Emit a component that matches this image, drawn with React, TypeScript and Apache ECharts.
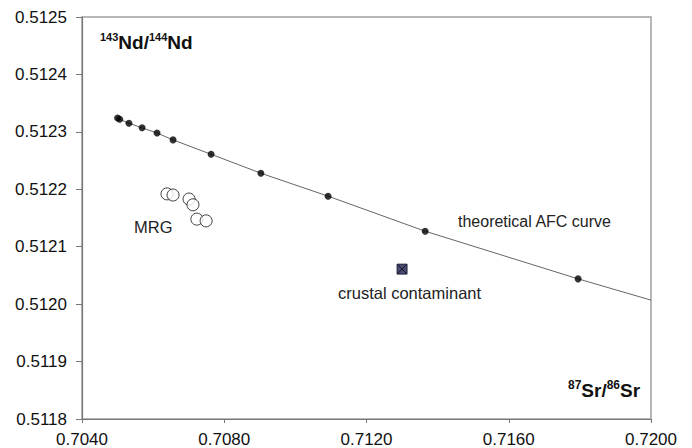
import React, { useEffect, useRef } from "react";
import * as echarts from "echarts";

const afcSr = [0.70500, 0.70506, 0.70532, 0.70569, 0.70611, 0.70656, 0.70763, 0.70903, 0.71092, 0.71365, 0.71795];
const afcNd = [0.512324, 0.512322, 0.512315, 0.512307, 0.512298, 0.512286, 0.512261, 0.512228, 0.512188, 0.512127, 0.512044];
const curveEndSr = 0.7200;
const curveEndNd = 0.512007;

const mrgSr = [0.70639, 0.70656, 0.70701, 0.70712, 0.70723, 0.70749];
const mrgNd = [0.512192, 0.512190, 0.512183, 0.512173, 0.512148, 0.512145];

const contaminantSr = [0.71300];
const contaminantNd = [0.512061];

const xTicks = { min: 0.704, max: 0.72, interval: 0.004 };
const yTicks = { min: 0.5118, max: 0.5125, interval: 0.0001 };

const FONT = "'Liberation Sans', Arial, sans-serif";

export default function App() {
  const ref = useRef<HTMLDivElement>(null);
  useEffect(() => {
    if (!ref.current) return;
    const chart = echarts.init(ref.current, null, { renderer: "svg" });
    const curve = afcSr.map((x, i) => [x, afcNd[i]]);
    curve.push([curveEndSr, curveEndNd]);
    chart.setOption({
      animation: false,
      backgroundColor: "#fff",
      textStyle: { fontFamily: FONT },
      grid: { left: 82, right: 41, top: 17, bottom: 29, show: true, borderColor: "#a0a0a0", borderWidth: 1.5 },
      xAxis: {
        type: "value",
        min: xTicks.min,
        max: xTicks.max,
        interval: xTicks.interval,
        splitLine: { show: false },
        axisLine: { show: true, lineStyle: { color: "#777", width: 1.2 } },
        axisTick: { show: true, length: 4, lineStyle: { color: "#777" } },
        axisLabel: { color: "#111", fontSize: 17, fontFamily: FONT, margin: 12, formatter: (v: number) => v.toFixed(4) },
      },
      yAxis: {
        type: "value",
        min: yTicks.min,
        max: yTicks.max,
        interval: yTicks.interval,
        splitLine: { show: false },
        axisLine: { show: true, lineStyle: { color: "#777", width: 1.2 } },
        axisTick: { show: true, length: 6, lineStyle: { color: "#777" } },
        axisLabel: { color: "#111", fontSize: 17, fontFamily: FONT, margin: 15, formatter: (v: number) => v.toFixed(4) },
      },
      series: [
        {
          type: "line",
          data: curve,
          showSymbol: false,
          symbol: "none",
          lineStyle: { color: "#666", width: 1 },
          z: 2,
        },
        {
          type: "scatter",
          data: afcSr.map((x, i) => [x, afcNd[i]]),
          symbol: "circle",
          symbolSize: 7,
          itemStyle: { color: "#000" },
          z: 3,
        },
        {
          type: "scatter",
          data: mrgSr.map((x, i) => [x, mrgNd[i]]),
          symbol: "circle",
          symbolSize: 12,
          itemStyle: { color: "#fff", borderColor: "#111", borderWidth: 1 },
          z: 3,
        },
        {
          type: "scatter",
          data: contaminantSr.map((x, i) => [x, contaminantNd[i]]),
          symbol: "rect",
          symbolSize: 10,
          itemStyle: { color: "#1e1e52", borderColor: "#0a0a20", borderWidth: 1 },
          z: 3,
        },
        {
          type: "scatter",
          data: contaminantSr.map((x, i) => [x, contaminantNd[i]]),
          symbol: "path://M0,0L10,10M10,0L0,10",
          symbolSize: 8,
          itemStyle: { color: "none", borderColor: "#05050f", borderWidth: 1 },
          z: 4,
        },
      ],
      graphic: [
        {
          type: "text",
          left: 100,
          top: 31,
          style: {
            text: "{sup|143}{b|Nd/}{sup|144}{b|Nd}",
            rich: {
              sup: { fontSize: 11, fontWeight: "bold", fill: "#111", fontFamily: FONT, verticalAlign: "top", lineHeight: 22, padding: [0, 0, 8, 0] },
              b: { fontSize: 19, fontWeight: "bold", fill: "#111", fontFamily: FONT, lineHeight: 22 },
            },
          },
        },
        {
          type: "text",
          left: 568,
          top: 379,
          style: {
            text: "{sup|87}{b|Sr/}{sup|86}{b|Sr}",
            rich: {
              sup: { fontSize: 12, fontWeight: "bold", fill: "#111", fontFamily: FONT, verticalAlign: "top", lineHeight: 22, padding: [0, 0, 8, 0] },
              b: { fontSize: 19, fontWeight: "bold", fill: "#111", fontFamily: FONT, lineHeight: 22 },
            },
          },
        },
        {
          type: "text",
          x: 134,
          y: 227,
          style: { text: "MRG", fontSize: 16.5, fill: "#222", fontFamily: FONT, verticalAlign: "middle" },
        },
        {
          type: "text",
          x: 458,
          y: 221,
          style: { text: "theoretical AFC curve", fontSize: 16, fill: "#222", fontFamily: FONT, verticalAlign: "middle" },
        },
        {
          type: "text",
          x: 338,
          y: 293,
          style: { text: "crustal contaminant", fontSize: 16.5, fill: "#222", fontFamily: FONT, verticalAlign: "middle" },
        },
      ],
    });
    return () => chart.dispose();
  }, []);
  return <div ref={ref} style={{ width: 692, height: 448, position: "absolute", left: 0, top: 0 }} />;
}
